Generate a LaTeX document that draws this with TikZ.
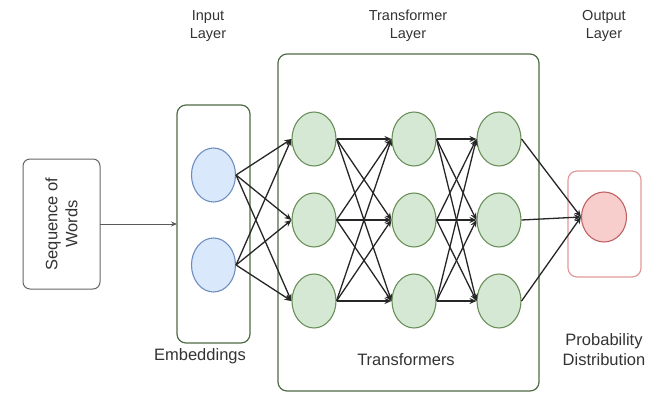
\documentclass[tikz,border=0pt]{standalone}
\usepackage{fontspec}
\setmainfont{Liberation Sans}
\usetikzlibrary{shapes.geometric,arrows.meta}
\definecolor{gfill}{HTML}{D5E8D4}
\definecolor{gline}{HTML}{6A8F5A}
\definecolor{gbox}{HTML}{4F6B45}
\definecolor{bfill}{HTML}{DAE8FC}
\definecolor{bline}{HTML}{6C8EBF}
\definecolor{rfill}{HTML}{F8CECC}
\definecolor{rline}{HTML}{C06060}
\definecolor{rbox}{HTML}{E09A9A}
\definecolor{txt}{HTML}{333333}
\tikzset{
  neuron/.style={ellipse, draw, line width=1.1pt, minimum width=44pt, minimum height=54pt, inner sep=0pt},
  gn/.style={neuron, fill=gfill, draw=gline},
  bn/.style={neuron, fill=bfill, draw=bline},
  rn/.style={neuron, fill=rfill, draw=rline, minimum width=45pt, minimum height=50pt},
  layerbox/.style={draw=gbox, line width=1.2pt, rounded corners=9pt},
  conn/.style={line width=1.3pt, black!85, -{Stealth[length=7pt,width=6pt]}},
  lbl/.style={text=txt, font=\fontsize{16.5}{20}\selectfont, align=center},
  toplbl/.style={text=txt, font=\fontsize{14.5}{18}\selectfont, align=center},
}
\begin{document}
\begin{tikzpicture}[x=1pt,y=-1pt]
\useasboundingbox (0,0) rectangle (660,393);
% boxes
\draw[draw=gray!80!black, line width=1pt, rounded corners=7pt] (23,159) rectangle (100,289);
\node[lbl, rotate=90] (seq) at (61.5,224) {Sequence of\\Words};
\coordinate (seqR) at (100,224);
\draw[layerbox] (177,105) rectangle (250,343);
\coordinate (embL) at (177,224);
\draw[layerbox] (278,54) rectangle (539,391);
\draw[draw=rbox, line width=1.2pt, rounded corners=9pt] (568,171) rectangle (641,277);
\draw[line width=0.8pt, gray!70!black, -{Stealth[length=6pt,width=5pt]}] (seqR) -- (embL);
% neurons
\node[bn] (b1) at (213.5,175) {};
\node[bn] (b2) at (213.5,265) {};
\foreach \c/\x in {1/314,2/414,3/499}{
  \node[gn] (g\c1) at (\x,139) {};
  \node[gn] (g\c2) at (\x,220) {};
  \node[gn] (g\c3) at (\x,301) {};
}
\node[rn] (r) at (604,217) {};
% connections
\foreach \i in {1,2}{\foreach \j in {1,2,3}{\draw[conn] (b\i.east) -- (g1\j.west);}}
\foreach \i in {1,2,3}{\foreach \j in {1,2,3}{
  \draw[conn] (g1\i.east) -- (g2\j.west);
  \draw[conn] (g2\i.east) -- (g3\j.west);}}
\foreach \i in {1,2,3}{\draw[conn] (g3\i.east) -- (r.west);}
% labels
\node[toplbl] (tin) at (208,26) {Input\\Layer};
\node[toplbl] (ttr) at (408,26) {Transformer\\Layer};
\node[toplbl] (tout) at (604,26) {Output\\Layer};
\node[lbl] (emb) at (200,356) {Embeddings};
\node[lbl] (trf) at (406,360) {Transformers};
\node[lbl] (prob) at (604,350) {Probability\\Distribution};
\end{tikzpicture}
\end{document}
